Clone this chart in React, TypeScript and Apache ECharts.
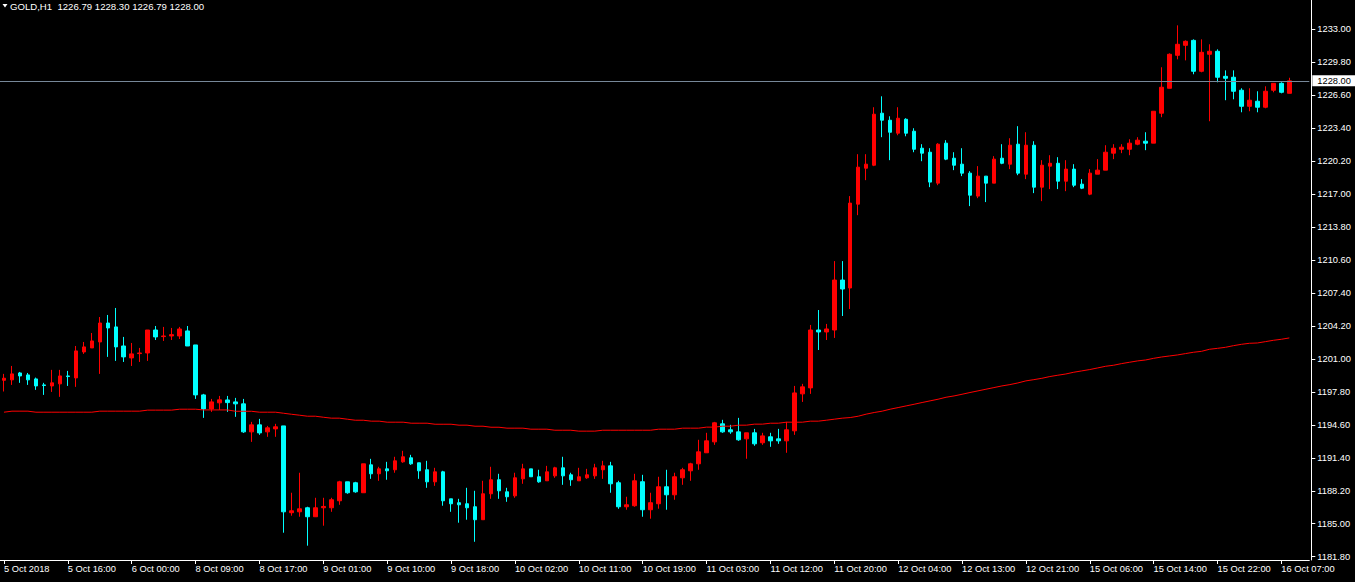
import React, { useEffect, useRef } from "react";
import * as echarts from "echarts";

const symbolName = "GOLD,H1";
const lastQuote = [1226.79, 1228.3, 1226.79, 1228.0]; // open, high, low, close

const tickLabels = [
  "5 Oct 2018", "5 Oct 16:00", "6 Oct 00:00", "8 Oct 09:00", "8 Oct 17:00", "9 Oct 01:00",
  "9 Oct 10:00", "9 Oct 18:00", "10 Oct 02:00", "10 Oct 11:00", "10 Oct 19:00", "11 Oct 03:00",
  "11 Oct 12:00", "11 Oct 20:00", "12 Oct 04:00", "12 Oct 13:00", "12 Oct 21:00", "15 Oct 06:00",
  "15 Oct 14:00", "15 Oct 22:00", "16 Oct 07:00",
];

const priceTicks = [
  1181.8, 1185.0, 1188.2, 1191.4, 1194.6, 1197.8, 1201.0, 1204.2, 1207.4,
  1210.6, 1213.8, 1217.0, 1220.2, 1223.4, 1226.6, 1229.8, 1233.0,
];

// [open, close, low, high]
const candles = [
  [1198.93, 1199.13, 1197.84, 1199.55], [1198.97, 1199.55, 1198.48, 1200.32], [1199.64, 1199.35, 1198.68, 1199.74],
  [1199.45, 1198.97, 1198.48, 1199.64], [1199.06, 1198.38, 1198.0, 1199.19], [1198.48, 1198.42, 1197.51, 1198.68],
  [1198.38, 1198.68, 1197.8, 1199.94], [1198.58, 1199.35, 1197.32, 1199.94], [1199.35, 1199.29, 1198.38, 1199.84],
  [1199.16, 1201.78, 1198.29, 1202.26], [1201.68, 1202.17, 1201.49, 1202.65], [1202.07, 1202.75, 1202.07, 1203.52],
  [1202.65, 1204.49, 1199.55, 1205.07], [1204.49, 1204.01, 1201.2, 1205.27], [1204.11, 1202.17, 1200.81, 1205.95],
  [1202.26, 1201.2, 1200.71, 1203.14], [1201.1, 1201.49, 1200.32, 1202.55], [1201.52, 1201.58, 1200.71, 1202.07],
  [1201.58, 1203.81, 1200.81, 1203.81], [1203.81, 1203.14, 1202.84, 1204.2], [1203.17, 1203.23, 1202.75, 1204.11],
  [1203.23, 1203.36, 1202.84, 1204.01], [1203.23, 1203.91, 1202.94, 1204.11], [1203.72, 1202.26, 1202.26, 1204.2],
  [1202.36, 1197.51, 1197.12, 1202.36], [1197.51, 1196.15, 1195.28, 1197.61], [1196.15, 1196.83, 1195.86, 1197.12],
  [1196.74, 1197.03, 1196.05, 1197.41], [1197.02, 1196.76, 1195.86, 1197.41], [1196.83, 1196.64, 1195.38, 1197.22],
  [1196.64, 1193.92, 1193.82, 1197.12], [1193.92, 1194.6, 1192.95, 1194.89], [1194.6, 1193.82, 1193.63, 1195.18],
  [1193.92, 1194.31, 1193.44, 1194.5], [1194.21, 1194.41, 1193.44, 1194.7], [1194.5, 1186.16, 1184.13, 1194.5],
  [1186.07, 1186.26, 1185.78, 1188.01], [1186.16, 1186.45, 1185.68, 1189.95], [1186.55, 1185.68, 1182.87, 1186.65],
  [1185.68, 1186.55, 1185.68, 1187.52], [1186.55, 1186.68, 1184.81, 1187.52], [1186.55, 1187.33, 1186.16, 1187.52],
  [1187.23, 1189.07, 1186.84, 1189.17], [1189.07, 1188.01, 1187.91, 1189.07], [1188.98, 1188.1, 1188.01, 1189.07],
  [1188.01, 1190.82, 1188.01, 1190.82], [1190.72, 1189.85, 1189.36, 1191.3], [1189.85, 1190.33, 1189.17, 1190.53],
  [1190.33, 1190.14, 1189.27, 1191.01], [1190.24, 1191.11, 1189.95, 1191.5], [1191.01, 1191.5, 1190.92, 1192.08],
  [1191.4, 1190.82, 1190.72, 1191.69], [1190.92, 1190.14, 1189.36, 1190.92], [1190.24, 1189.07, 1188.49, 1191.11],
  [1189.07, 1190.04, 1188.68, 1190.43], [1190.04, 1187.23, 1186.75, 1190.14], [1187.42, 1186.94, 1186.16, 1187.42],
  [1187.04, 1186.84, 1185.1, 1187.42], [1186.94, 1186.55, 1185.39, 1188.49], [1186.65, 1185.39, 1183.25, 1188.2],
  [1185.39, 1187.91, 1185.39, 1189.17], [1187.91, 1189.27, 1187.42, 1190.53], [1189.27, 1188.2, 1187.42, 1189.85],
  [1188.1, 1187.62, 1187.13, 1188.49], [1187.71, 1189.46, 1187.52, 1189.95], [1189.36, 1190.33, 1188.88, 1190.82],
  [1190.33, 1189.56, 1189.56, 1190.33], [1189.56, 1189.07, 1188.98, 1190.24], [1189.17, 1190.04, 1189.17, 1190.62],
  [1189.65, 1190.43, 1189.46, 1190.53], [1190.43, 1189.65, 1188.78, 1191.5], [1189.75, 1189.27, 1188.68, 1189.95],
  [1189.17, 1189.56, 1189.17, 1190.43], [1189.46, 1189.75, 1189.36, 1190.33], [1189.65, 1190.43, 1189.36, 1190.82],
  [1190.24, 1190.62, 1189.36, 1191.11], [1190.62, 1188.88, 1188.01, 1191.01], [1188.98, 1186.65, 1186.45, 1189.17],
  [1186.65, 1186.84, 1186.36, 1187.62], [1186.75, 1189.17, 1186.65, 1189.85], [1189.08, 1186.36, 1185.68, 1189.75],
  [1186.36, 1187.04, 1185.49, 1188.01], [1186.94, 1188.59, 1186.46, 1189.56], [1188.59, 1187.81, 1186.36, 1190.24],
  [1187.81, 1189.56, 1187.33, 1189.95], [1189.46, 1190.24, 1188.78, 1190.43], [1190.14, 1190.82, 1189.17, 1190.92],
  [1190.82, 1191.98, 1190.24, 1193.15], [1191.89, 1193.05, 1191.89, 1193.83], [1192.95, 1194.8, 1192.66, 1194.89],
  [1194.7, 1193.92, 1193.83, 1195.09], [1194.12, 1193.92, 1193.73, 1194.6], [1193.92, 1193.15, 1193.05, 1195.28],
  [1193.24, 1193.83, 1191.31, 1193.83], [1193.83, 1192.76, 1192.57, 1194.21], [1192.86, 1193.53, 1192.66, 1193.83],
  [1193.44, 1193.05, 1192.47, 1193.83], [1193.24, 1193.05, 1192.76, 1194.21], [1193.05, 1194.12, 1191.89, 1194.89],
  [1194.02, 1197.7, 1193.63, 1198.38], [1197.61, 1198.29, 1196.83, 1198.58], [1198.19, 1203.81, 1197.61, 1204.3],
  [1203.81, 1203.62, 1201.87, 1205.75], [1203.62, 1203.91, 1202.84, 1204.4], [1203.81, 1208.66, 1203.04, 1210.5],
  [1208.66, 1207.79, 1205.17, 1210.5], [1207.89, 1216.13, 1205.85, 1216.81], [1216.03, 1219.62, 1214.96, 1220.88],
  [1219.52, 1219.91, 1218.36, 1220.88], [1219.81, 1224.76, 1219.72, 1225.44], [1224.86, 1224.18, 1222.53, 1226.5],
  [1224.18, 1223.01, 1220.3, 1224.56], [1222.92, 1224.37, 1222.72, 1225.44], [1224.27, 1222.92, 1222.62, 1224.37],
  [1223.11, 1221.36, 1221.07, 1223.4], [1221.46, 1220.98, 1220.2, 1221.85], [1221.07, 1218.17, 1217.68, 1221.46],
  [1218.07, 1221.85, 1217.87, 1221.95], [1221.95, 1220.4, 1220.3, 1222.24], [1220.49, 1219.81, 1219.33, 1221.07],
  [1219.91, 1219.04, 1218.75, 1221.46], [1219.04, 1216.9, 1215.84, 1219.23], [1216.81, 1218.75, 1216.61, 1219.72],
  [1218.75, 1218.07, 1216.23, 1218.75], [1218.07, 1220.4, 1218.07, 1220.69], [1220.49, 1220.0, 1219.91, 1221.85],
  [1219.91, 1221.75, 1219.43, 1222.43], [1221.85, 1219.04, 1218.84, 1223.6], [1218.94, 1221.75, 1218.46, 1223.01],
  [1221.75, 1217.68, 1217.1, 1222.14], [1217.68, 1219.81, 1216.32, 1220.3], [1219.72, 1220.0, 1217.49, 1220.78],
  [1220.0, 1218.26, 1217.49, 1220.59], [1218.26, 1219.43, 1217.29, 1220.3], [1219.43, 1217.87, 1217.68, 1219.91],
  [1217.97, 1217.58, 1217.49, 1218.46], [1217.0, 1219.04, 1216.9, 1219.43], [1218.94, 1219.33, 1218.94, 1220.4],
  [1219.33, 1221.07, 1219.33, 1221.75], [1220.98, 1221.46, 1220.4, 1221.85], [1221.36, 1221.56, 1220.98, 1221.85],
  [1221.36, 1221.95, 1220.78, 1222.33], [1221.85, 1222.24, 1221.75, 1222.53], [1222.14, 1221.95, 1221.27, 1223.01],
  [1221.95, 1225.05, 1221.95, 1225.05], [1224.86, 1227.38, 1224.47, 1229.32], [1227.28, 1230.58, 1227.28, 1230.67],
  [1230.48, 1231.55, 1230.09, 1233.39], [1231.45, 1231.84, 1229.99, 1231.93], [1231.93, 1228.93, 1228.64, 1232.03],
  [1228.93, 1230.77, 1228.83, 1232.03], [1230.58, 1230.87, 1224.08, 1231.55], [1230.87, 1228.35, 1227.86, 1231.06],
  [1228.44, 1228.25, 1226.12, 1229.02], [1228.35, 1226.99, 1226.21, 1229.02], [1227.09, 1225.53, 1224.95, 1227.28],
  [1225.53, 1226.12, 1225.05, 1227.28], [1226.02, 1225.44, 1224.95, 1226.99], [1225.44, 1226.99, 1225.34, 1227.47],
  [1227.09, 1227.76, 1226.89, 1227.76], [1227.76, 1226.89, 1226.79, 1227.86], [1226.79, 1228.0, 1226.79, 1228.3],
];

const maValues = [
  1195.83, 1195.93, 1195.93, 1195.93, 1195.83, 1195.83, 1195.83, 1195.83, 1195.83, 1195.83,
  1195.83, 1195.83, 1195.93, 1195.93, 1195.93, 1195.93, 1195.93, 1195.93, 1196.03, 1196.03,
  1196.03, 1196.03, 1196.12, 1196.12, 1196.12, 1196.05, 1196.05, 1196.05, 1196.05, 1195.92,
  1195.92, 1195.92, 1195.83, 1195.83, 1195.83, 1195.73, 1195.63, 1195.54, 1195.44, 1195.44,
  1195.34, 1195.25, 1195.25, 1195.15, 1195.05, 1195.05, 1194.96, 1194.96, 1194.86, 1194.86,
  1194.86, 1194.76, 1194.76, 1194.76, 1194.66, 1194.66, 1194.66, 1194.57, 1194.57, 1194.47,
  1194.47, 1194.37, 1194.37, 1194.28, 1194.28, 1194.28, 1194.18, 1194.18, 1194.18, 1194.08,
  1194.08, 1194.08, 1193.99, 1193.99, 1193.99, 1194.08, 1194.08, 1194.08, 1194.08, 1194.08,
  1194.08, 1194.08, 1194.18, 1194.18, 1194.18, 1194.28, 1194.28, 1194.28, 1194.38, 1194.38,
  1194.47, 1194.47, 1194.57, 1194.57, 1194.67, 1194.67, 1194.76, 1194.76, 1194.86, 1194.86,
  1194.86, 1194.96, 1194.96, 1195.05, 1195.15, 1195.25, 1195.31, 1195.44, 1195.64, 1195.8,
  1195.93, 1196.12, 1196.28, 1196.44, 1196.6, 1196.77, 1196.93, 1197.09, 1197.28, 1197.41,
  1197.57, 1197.74, 1197.9, 1198.06, 1198.22, 1198.38, 1198.51, 1198.67, 1198.87, 1198.99,
  1199.12, 1199.29, 1199.42, 1199.54, 1199.71, 1199.84, 1199.97, 1200.13, 1200.29, 1200.39,
  1200.55, 1200.68, 1200.81, 1200.9, 1201.06, 1201.19, 1201.29, 1201.39, 1201.52, 1201.65,
  1201.74, 1201.94, 1202.03, 1202.13, 1202.29, 1202.42, 1202.52, 1202.55, 1202.68, 1202.81,
  1202.91, 1203.04,
];

const EMPTY_SLOTS = 2;
const categories = Array.from({ length: candles.length + EMPTY_SLOTS }, (_, i) =>
  i % 8 === 0 && tickLabels[i / 8] ? tickLabels[i / 8] : `${tickLabels[Math.floor(i / 8)] ?? ""} +${i % 8}h`
);

const FONT = "'Liberation Sans', Arial, sans-serif";
const FS = 9.3;

export default function App() {
  const ref = useRef<HTMLDivElement>(null);
  useEffect(() => {
    if (!ref.current) return;
    const chart = echarts.init(ref.current, undefined, { renderer: "svg" });
    const [qo, qh, ql, qc] = lastQuote;
    chart.setOption({
      animation: false,
      backgroundColor: "#000000",
      textStyle: { fontFamily: FONT },
      title: {
        text: `${symbolName}  ${qo.toFixed(2)} ${qh.toFixed(2)} ${ql.toFixed(2)} ${qc.toFixed(2)}`,
        left: 10,
        top: 1,
        padding: 0,
        textStyle: { color: "#ffffff", fontSize: 9.6, fontWeight: "normal", fontFamily: FONT, lineHeight: 11 },
      },
      graphic: [
        {
          type: "polygon",
          shape: { points: [[2.5, 4], [7.5, 4], [5, 7.5]] },
          style: { fill: "#ffffff" },
          silent: true,
        },
      ],
      grid: { left: -2.7, right: 45.7, top: 0, bottom: 22 },
      xAxis: {
        type: "category",
        data: categories,
        boundaryGap: true,
        axisLine: { show: true, lineStyle: { color: "#ffffff", width: 1 } },
        axisTick: { show: true, alignWithLabel: true, interval: 7, length: 4, lineStyle: { color: "#ffffff" } },
        axisLabel: {
          interval: 7,
          color: "#ffffff",
          fontSize: FS,
          fontFamily: FONT,
          align: "left",
          margin: 4,
          hideOverlap: false,
        },
        splitLine: { show: false },
      },
      yAxis: {
        type: "value",
        position: "right",
        offset: 2,
        scale: true,
        min: 1181.48,
        max: 1235.85,
        axisLine: { show: true, lineStyle: { color: "#ffffff", width: 1 } },
        axisTick: { show: true, length: 4, lineStyle: { color: "#ffffff" }, customValues: priceTicks },
        axisLabel: {
          color: "#ffffff",
          fontSize: FS,
          fontFamily: FONT,
          margin: 6,
          customValues: priceTicks,
          formatter: (v: number) => v.toFixed(2),
        },
        splitLine: { show: false },
      },
      series: [
        {
          type: "candlestick",
          data: candles,
          barWidth: 4,
          itemStyle: {
            color: "#ff0000",
            color0: "#00ffff",
            borderColor: "#ff0000",
            borderColor0: "#00ffff",
            borderWidth: 1,
          },
          markLine: {
            silent: true,
            symbol: ["none", "none"],
            lineStyle: { color: "#778899", width: 1, type: "solid" },
            label: {
              show: true,
              position: "end",
              distance: 3,
              formatter: () => qc.toFixed(2),
              color: "#000000",
              backgroundColor: "#ffffff",
              fontSize: FS,
              fontFamily: FONT,
              padding: [1, 5, 1, 5],
            },
            data: [{ yAxis: qc }],
          },
        },
        {
          type: "line",
          data: maValues,
          symbol: "none",
          smooth: false,
          lineStyle: { color: "#ff0000", width: 1 },
          z: 3,
        },
      ],
    });
    return () => chart.dispose();
  }, []);
  return (
    <div
      ref={ref}
      style={{ position: "absolute", left: 0, top: 0, width: 1355, height: 582, background: "#000" }}
    />
  );
}
